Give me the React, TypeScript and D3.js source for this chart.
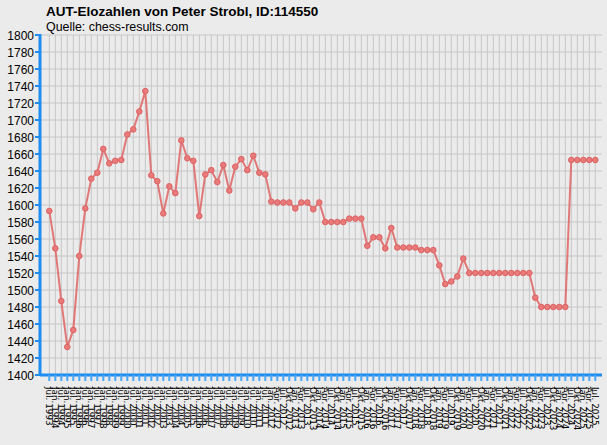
import React from 'react';
import * as d3 from 'd3';

// --- Daten ---
const dates: string[] = [
  'Jul. 1993', 'Jan. 1994', 'Jul. 1994', 'Jan. 1995', 'Jul. 1995', 'Jan. 1996', 'Jul. 1996', 'Jan. 1997',
  'Jul. 1997', 'Jan. 1998', 'Jul. 1998', 'Jan. 1999', 'Jul. 1999', 'Jan. 2000', 'Jul. 2000', 'Jan. 2001',
  'Jul. 2001', 'Jan. 2002', 'Jul. 2002', 'Jan. 2003', 'Jul. 2003', 'Jan. 2004', 'Jul. 2004', 'Jan. 2005',
  'Jul. 2005', 'Jan. 2006', 'Jul. 2006', 'Jan. 2007', 'Jul. 2007', 'Jan. 2008', 'Jul. 2008', 'Jan. 2009',
  'Jul. 2009', 'Jan. 2010', 'Jul. 2010', 'Jan. 2011', 'Jul. 2011', 'Jan. 2012',
  'Apr. 2012', 'Jul. 2012', 'Okt. 2012', 'Jan. 2013', 'Apr. 2013', 'Jul. 2013', 'Okt. 2013',
  'Jan. 2014', 'Apr. 2014', 'Jul. 2014', 'Okt. 2014', 'Jan. 2015', 'Apr. 2015', 'Jul. 2015', 'Okt. 2015',
  'Jan. 2016', 'Apr. 2016', 'Jul. 2016', 'Okt. 2016', 'Jan. 2017', 'Apr. 2017', 'Jul. 2017', 'Okt. 2017',
  'Jan. 2018', 'Apr. 2018', 'Jul. 2018', 'Okt. 2018', 'Jan. 2019', 'Apr. 2019', 'Jul. 2019', 'Okt. 2019',
  'Jan. 2020', 'Apr. 2020', 'Jul. 2020', 'Okt. 2020', 'Jan. 2021', 'Apr. 2021', 'Jul. 2021', 'Okt. 2021',
  'Jan. 2022', 'Apr. 2022', 'Jul. 2022', 'Okt. 2022', 'Jan. 2023', 'Apr. 2023', 'Jul. 2023', 'Okt. 2023',
  'Jan. 2024', 'Apr. 2024', 'Jul. 2024', 'Okt. 2024', 'Jan. 2025', 'Apr. 2025', 'Jul. 2025',
];

const elo: number[] = [
  1593, 1549, 1487, 1433, 1453, 1540, 1596, 1631, 1638, 1666, 1649, 1652, 1653, 1683, 1689, 1710,
  1734, 1635, 1628, 1590, 1622, 1614, 1676, 1655, 1652, 1587, 1636, 1641, 1627, 1647, 1617, 1645,
  1654, 1641, 1658, 1638, 1636, 1604, 1603, 1603, 1603, 1596, 1603, 1603, 1595, 1603, 1580, 1580,
  1580, 1580, 1584, 1584, 1584, 1552, 1562, 1562, 1549, 1573, 1550, 1550, 1550, 1550, 1547, 1547,
  1547, 1529, 1507, 1510, 1516, 1537, 1520, 1520, 1520, 1520, 1520, 1520, 1520, 1520, 1520, 1520,
  1520, 1491, 1480, 1480, 1480, 1480, 1480, 1653, 1653, 1653, 1653, 1653,
];

const yTicks: number[] = d3.range(1400, 1801, 20);

const W = 607;
const H = 445;
const plot = { left: 40, right: 602, top: 35, bottom: 375 };
const blue = '#1e8cf0';
const lineColor = '#e06a6a';

export default function App() {
  const x = d3.scalePoint<string>().domain(dates).range([49.3, 595.3]);
  const y = d3.scaleLinear().domain([1400, 1800]).range([plot.bottom, plot.top]);

  const line = d3.line<number>()
    .x((_, i) => x(dates[i]) as number)
    .y(d => y(d));

  return (
    <svg width={W} height={H} style={{ position: 'absolute', left: 0, top: 0, background: '#ebebeb' }}
      fontFamily="'Liberation Sans', Arial, sans-serif">
      <rect x={0} y={0} width={W} height={H} fill="#ebebeb" />

      {/* Titel */}
      <text x={46} y={16} fontSize={13.5} fontWeight="bold" fill="#000">AUT-Elozahlen von Peter Strobl, ID:114550</text>
      <text x={46} y={31} fontSize={12.4} fill="#000">Quelle: chess-results.com</text>

      {/* Gitter */}
      {yTicks.map(t => (
        <line key={'h' + t} x1={plot.left} x2={plot.right} y1={y(t)} y2={y(t)} stroke="#c6c6c6" strokeWidth={1} />
      ))}
      {dates.map(d => (
        <line key={'v' + d} x1={x(d)} x2={x(d)} y1={plot.top} y2={plot.bottom} stroke="#c6c6c6" strokeWidth={1} />
      ))}

      {/* Y-Achse */}
      <line x1={plot.left} x2={plot.left} y1={plot.top - 1} y2={plot.bottom + 1} stroke={blue} strokeWidth={3} />
      {yTicks.map(t => (
        <g key={'yt' + t}>
          <line x1={plot.left - 5} x2={plot.left} y1={y(t)} y2={y(t)} stroke={blue} strokeWidth={2} />
          <text x={34} y={y(t) + 4.5} fontSize={12} textAnchor="end" fill="#000">{t}</text>
        </g>
      ))}

      {/* X-Achse */}
      <line x1={plot.left} x2={plot.right} y1={plot.bottom} y2={plot.bottom} stroke={blue} strokeWidth={3} />
      {dates.map(d => (
        <line key={'xt' + d} x1={x(d)} x2={x(d)} y1={plot.bottom} y2={plot.bottom + 6} stroke="#4aa6f7" strokeWidth={2} />
      ))}
      {dates.map(d => (
        <text key={'xl' + d} transform={`translate(${(x(d) as number) - 3},387) rotate(90)`}
          fontSize={8.8} fontFamily="'DejaVu Sans', sans-serif" fill="#000">{d}</text>
      ))}

      {/* Linie */}
      <path d={line(elo) || ''} fill="none" stroke={lineColor} strokeWidth={2} strokeOpacity={0.9} />
      {elo.map((v, i) => (
        <circle key={'p' + i} cx={x(dates[i])} cy={y(v)} r={2.8} fill="#e87a7a" stroke="#dd6262" strokeWidth={1} />
      ))}
    </svg>
  );
}
